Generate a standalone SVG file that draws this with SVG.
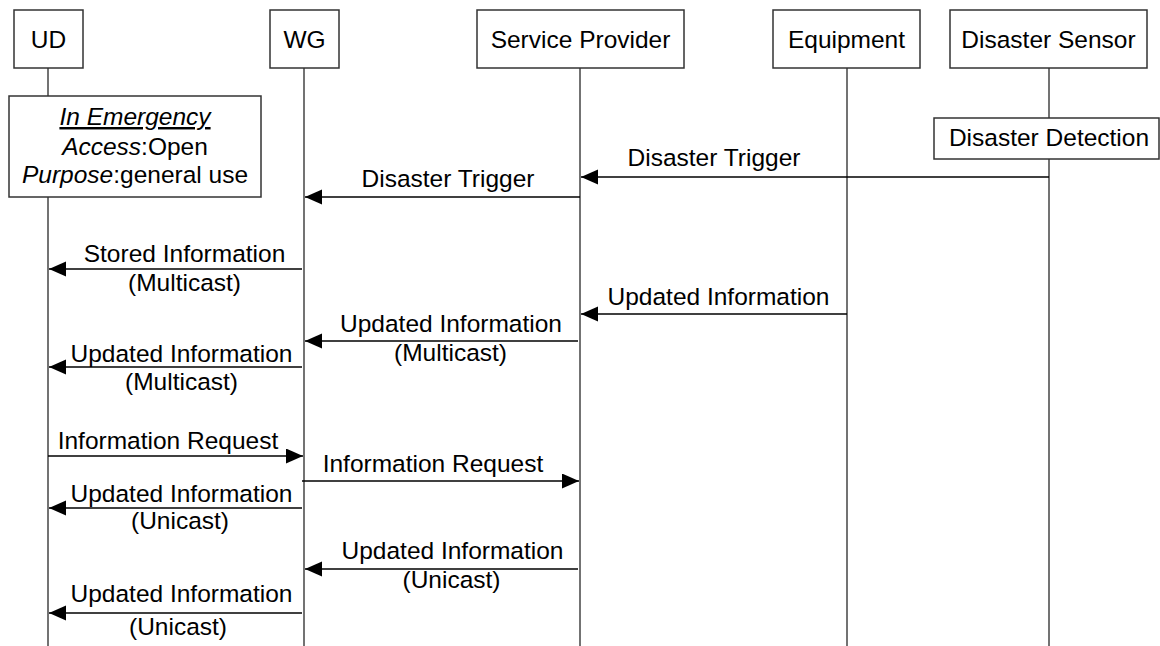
<svg xmlns="http://www.w3.org/2000/svg" width="1160" height="646" viewBox="0 0 1160 646">
<style>
text{font-family:"Liberation Sans",Arial,sans-serif;font-size:24.5px;fill:#000;text-anchor:middle}
.box{fill:#fff;stroke:#333;stroke-width:1.5}
.life{stroke:#444;stroke-width:1.5;fill:none}
.msg{stroke:#000;stroke-width:1.5;fill:none;marker-end:url(#ah)}
.it{font-style:italic}
</style>
<defs>
<marker id="ah" markerUnits="userSpaceOnUse" markerWidth="18" markerHeight="16" refX="17" refY="7.5" orient="auto">
<path d="M0,0 L17,7.5 L0,15 Z" fill="#000"/>
</marker>
</defs>
<g id="lifelines">
<line class="life" x1="48" y1="68" x2="48" y2="646"/>
<line class="life" x1="304" y1="68" x2="304" y2="646"/>
<line class="life" x1="580" y1="68" x2="580" y2="646"/>
<line class="life" x1="847" y1="68" x2="847" y2="646" stroke="#111"/>
<line class="life" x1="1049" y1="68" x2="1049" y2="646" stroke="#111"/>
</g>
<g id="ud"><rect class="box" x="14" y="10" width="69" height="58"/><text x="48.5" y="48">UD</text></g>
<g id="wg"><rect class="box" x="270" y="10" width="69" height="58"/><text x="304.5" y="48">WG</text></g>
<g id="sp"><rect class="box" x="477" y="10" width="207" height="58"/><text x="580.5" y="48">Service Provider</text></g>
<g id="eq"><rect class="box" x="773" y="10" width="147" height="58"/><text x="846.5" y="48">Equipment</text></g>
<g id="ds"><rect class="box" x="950" y="10" width="197" height="58"/><text x="1048.5" y="48">Disaster Sensor</text></g>
<g id="emergency"><rect class="box" x="9" y="96" width="252" height="101"/>
<text x="135" y="125" class="it" text-decoration="underline">In Emergency</text>
<text x="135" y="155"><tspan class="it">Access</tspan>:Open</text>
<text x="135" y="183"><tspan class="it">Purpose</tspan>:general use</text>
</g>
<g id="detection"><rect class="box" x="934" y="118" width="225" height="41"/><text x="1049" y="146">Disaster Detection</text></g>
<g id="connectors">
<line class="msg" x1="1049" y1="177" x2="581" y2="177"/>
<text x="714" y="166">Disaster Trigger</text>
<line class="msg" x1="580" y1="197" x2="305" y2="197"/>
<text x="448" y="187">Disaster Trigger</text>
<line class="msg" x1="302" y1="269" x2="49" y2="269"/>
<text x="184.5" y="262">Stored Information</text>
<text x="184.5" y="291">(Multicast)</text>
<line class="msg" x1="847" y1="314" x2="581" y2="314"/>
<text x="718.5" y="305">Updated Information</text>
<line class="msg" x1="578" y1="341" x2="305" y2="341"/>
<text x="451" y="332">Updated Information</text>
<text x="450.5" y="361">(Multicast)</text>
<line class="msg" x1="302" y1="367" x2="49" y2="367"/>
<text x="181.5" y="362">Updated Information</text>
<text x="181.5" y="390">(Multicast)</text>
<line class="msg" x1="48" y1="456" x2="303" y2="456"/>
<text x="168" y="449">Information Request</text>
<line class="msg" x1="302" y1="481" x2="579" y2="481"/>
<text x="433" y="472">Information Request</text>
<line class="msg" x1="302" y1="508" x2="49" y2="508"/>
<text x="181.5" y="502">Updated Information</text>
<text x="180" y="529">(Unicast)</text>
<line class="msg" x1="578" y1="569" x2="305" y2="569"/>
<text x="452.5" y="559">Updated Information</text>
<text x="451.5" y="588">(Unicast)</text>
<line class="msg" x1="302" y1="613" x2="49" y2="613"/>
<text x="181.5" y="602">Updated Information</text>
<text x="178" y="635">(Unicast)</text>
</g>
</svg>
